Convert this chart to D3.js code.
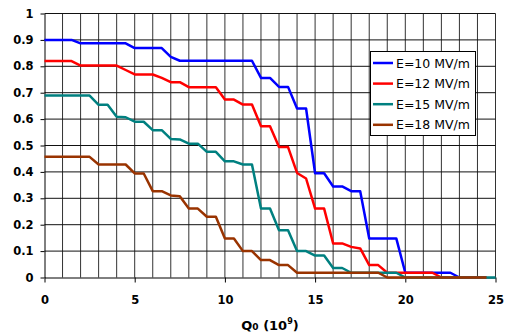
<!DOCTYPE html>
<html>
<head>
<meta charset="utf-8">
<script src="https://cdn.jsdelivr.net/npm/d3@7"></script>
<style>
  body { margin: 0; background: #fff; }
  svg { display: block; }
  .tick text { font-family: 'DejaVu Sans', sans-serif; font-weight: bold; font-size: 11.5px; fill: #000; }
  .legend-text { font-family: 'DejaVu Sans', sans-serif; font-size: 12.5px; fill: #000; }
  .axis-title { font-family: 'DejaVu Sans', sans-serif; font-weight: bold; font-size: 13px; fill: #000; }
</style>
</head>
<body>
<svg></svg>
<script>
var width = 507;
var height = 334;

// Q0 in units of 1e9, one point every 0.5
var qValues = [0, 0.5, 1, 1.5, 2, 2.5, 3, 3.5, 4, 4.5, 5, 5.5, 6, 6.5, 7, 7.5, 8, 8.5, 9, 9.5,
  10, 10.5, 11, 11.5, 12, 12.5, 13, 13.5, 14, 14.5, 15, 15.5, 16, 16.5, 17, 17.5, 18, 18.5, 19, 19.5,
  20, 20.5, 21, 21.5, 22, 22.5, 23, 23.5, 24, 24.5, 25];

var e10 = [0.900, 0.900, 0.900, 0.900, 0.887, 0.887, 0.887, 0.887, 0.887, 0.887, 0.869, 0.869, 0.869, 0.869, 0.836, 0.821, 0.821, 0.821, 0.821, 0.821,
  0.821, 0.821, 0.821, 0.821, 0.756, 0.756, 0.722, 0.722, 0.640, 0.640, 0.395, 0.395, 0.345, 0.345, 0.327, 0.327, 0.148, 0.148, 0.148, 0.148,
  0.018, 0.018, 0.018, 0.018, 0.018, 0.018, 0, 0, 0, 0, null];
var e12 = [0.820, 0.820, 0.820, 0.820, 0.803, 0.803, 0.803, 0.803, 0.803, 0.786, 0.769, 0.769, 0.769, 0.756, 0.740, 0.740, 0.721, 0.721, 0.721, 0.721,
  0.674, 0.674, 0.655, 0.655, 0.573, 0.573, 0.494, 0.494, 0.396, 0.375, 0.261, 0.261, 0.129, 0.129, 0.116, 0.110, 0.047, 0.047, 0.018, 0.018,
  0.018, 0.018, 0.018, 0.018, 0, 0, 0, 0, 0, 0, null];
var e15 = [0.689, 0.689, 0.689, 0.689, 0.689, 0.689, 0.654, 0.654, 0.609, 0.607, 0.590, 0.590, 0.558, 0.558, 0.525, 0.523, 0.507, 0.507, 0.476, 0.476,
  0.440, 0.440, 0.428, 0.428, 0.261, 0.261, 0.179, 0.179, 0.100, 0.100, 0.083, 0.083, 0.036, 0.036, 0.018, 0.018, 0.018, 0.018, 0.018, 0.018,
  0, 0, 0, 0, 0, 0, 0, 0, 0, 0, 0];
var e18 = [0.457, 0.457, 0.457, 0.457, 0.457, 0.457, 0.428, 0.428, 0.428, 0.428, 0.394, 0.394, 0.327, 0.327, 0.311, 0.308, 0.261, 0.261, 0.230, 0.230,
  0.148, 0.148, 0.100, 0.100, 0.066, 0.066, 0.047, 0.047, 0.018, 0.018, 0.018, 0.018, 0.018, 0.018, 0.018, 0.018, 0.018, 0.018, 0, 0,
  0, 0, 0, 0, 0, 0, 0, 0, 0, 0, null];

var seriesNames = ['E=10 MV/m', 'E=12 MV/m', 'E=15 MV/m', 'E=18 MV/m'];
var seriesColors = ['#0000ff', '#ff0000', '#008080', '#993300'];
var seriesValues = [e10, e12, e15, e18];

var xTicks = [0, 5, 10, 15, 20, 25];
var xGrid = [1, 2, 3, 4, 5, 6, 7, 8, 9, 10, 11, 12, 13, 14, 15, 16, 17, 18, 19, 20, 21, 22, 23, 24, 25];
var yTicks = [0, 0.1, 0.2, 0.3, 0.4, 0.5, 0.6, 0.7, 0.8, 0.9, 1];

var svg = d3.select('svg')
  .attr('width', width)
  .attr('height', height);

var xScale = d3.scaleLinear()
  .domain([0, 25])
  .range([44.5, 495.5]);
var yScale = d3.scaleLinear()
  .domain([0, 1])
  .range([277.5, 13.5]);

// grid
svg.append('g')
  .selectAll('line')
  .data(xGrid)
  .enter()
  .append('line')
    .attr('x1', d => xScale(d))
    .attr('x2', d => xScale(d))
    .attr('y1', yScale(0))
    .attr('y2', yScale(1))
    .attr('stroke', '#333')
    .attr('stroke-width', 1);
svg.append('g')
  .selectAll('line')
  .data(yTicks.slice(1))
  .enter()
  .append('line')
    .attr('x1', xScale(0))
    .attr('x2', xScale(25))
    .attr('y1', d => yScale(d))
    .attr('y2', d => yScale(d))
    .attr('stroke', '#111')
    .attr('stroke-width', 1);

// axes
var yAxis = d3.axisLeft(yScale)
  .tickValues(yTicks)
  .tickFormat(d => String(+d.toFixed(1)))
  .tickSize(4)
  .tickSizeOuter(0)
  .tickPadding(7);
var xAxis = d3.axisBottom(xScale)
  .tickValues(xTicks)
  .tickSize(5)
  .tickSizeOuter(0)
  .tickPadding(13);

svg.append('g')
  .attr('transform', 'translate(' + xScale(0) + ',0)')
  .call(yAxis)
  .call(g => g.selectAll('path, line').attr('stroke', '#000'));
svg.append('g')
  .attr('transform', 'translate(0,' + yScale(0) + ')')
  .call(xAxis)
  .call(g => g.selectAll('path, line').attr('stroke', '#000'));

// series lines, brown drawn last
var line = d3.line()
  .defined(d => d[1] !== null)
  .x(d => xScale(d[0]))
  .y(d => yScale(d[1]));

seriesValues.forEach((vals, i) => {
  svg.append('path')
    .datum(qValues.map((q, j) => [q, vals[j]]))
    .attr('fill', 'none')
    .attr('stroke', seriesColors[i])
    .attr('stroke-width', 2.5)
    .attr('stroke-linejoin', 'round')
    .attr('d', line);
});

// legend
var legend = svg.append('g');
legend.append('rect')
  .attr('x', 370.5)
  .attr('y', 51.5)
  .attr('width', 105)
  .attr('height', 84)
  .attr('fill', '#fff')
  .attr('stroke', '#000');

var rows = legend.selectAll('.row')
  .data(seriesNames)
  .enter()
  .append('g')
    .attr('transform', (d, i) => 'translate(0,' + (63 + i * 20.6) + ')');
rows.append('line')
  .attr('x1', 373)
  .attr('x2', 393)
  .attr('stroke', (d, i) => seriesColors[i])
  .attr('stroke-width', 2.5);
rows.append('text')
  .classed('legend-text', true)
  .attr('x', 396)
  .attr('y', 4.5)
  .text(d => d);

// axis title: Q0 (10^9)
var title = svg.append('text')
  .classed('axis-title', true)
  .attr('x', (xScale(0) + xScale(25)) / 2)
  .attr('y', 330)
  .attr('text-anchor', 'middle');
title.append('tspan').text('Q');
title.append('tspan').attr('font-size', '9px').text('0');
title.append('tspan').text(' (10');
title.append('tspan').attr('font-size', '8px').attr('dy', -6).text('9');
title.append('tspan').attr('dy', 6).text(')');
</script>
</body>
</html>
